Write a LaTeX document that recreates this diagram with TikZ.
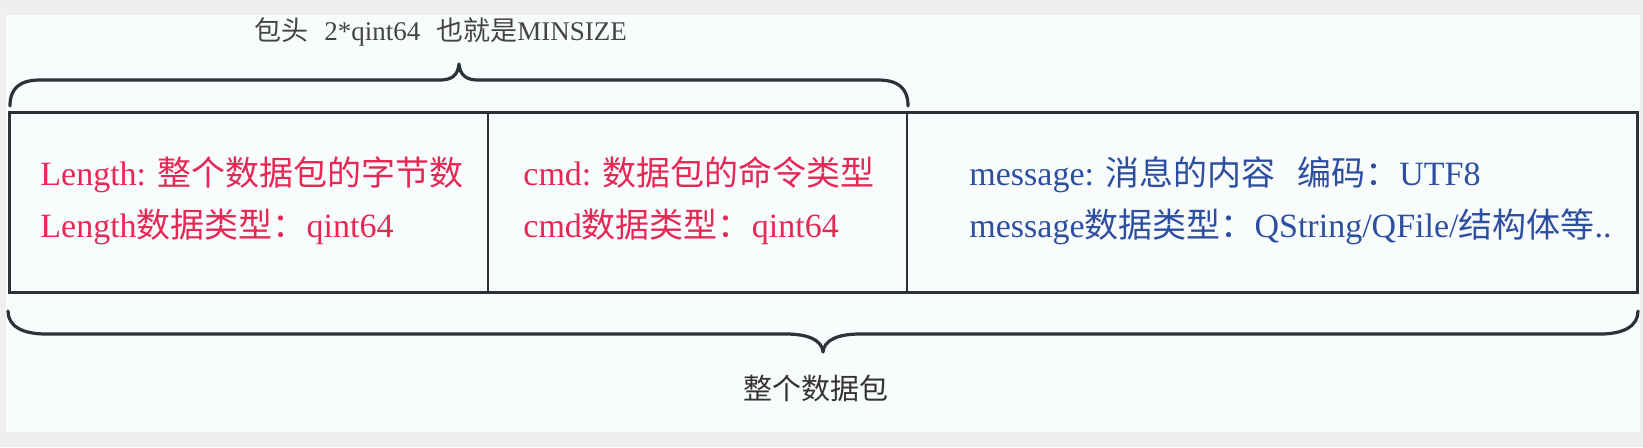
\documentclass[tikz,border=0pt]{standalone}
\usepackage{fontspec}
\setmainfont{Liberation Serif}
\newfontfamily\zh{Noto Sans CJK SC}
\definecolor{pagegray}{HTML}{EFEFEF}
\definecolor{paper}{HTML}{F8FCFD}
\definecolor{boxline}{HTML}{2A3437}
\definecolor{pktred}{HTML}{E62855}
\definecolor{pktblue}{HTML}{2E4FA0}
\definecolor{titlegray}{HTML}{444444}
\definecolor{labelgray}{HTML}{333333}
\begin{document}
\begin{tikzpicture}[x=0.5pt,y=-0.5pt,
  frame/.style={draw=boxline, line width=1.5pt},
  divider/.style={draw=boxline, line width=1.1pt},
  brace/.style={draw=boxline, line width=1.6pt, line cap=round, line join=round},
  celltext/.style={anchor=base west, inner sep=0pt, font=\fontsize{17}{20}\selectfont},
  redtxt/.style={celltext, text=pktred},
  bluetxt/.style={celltext, text=pktblue},
  titletxt/.style={anchor=base west, inner sep=0pt, text=titlegray, font=\fontsize{13.5}{16}\selectfont},
  labeltxt/.style={anchor=base, inner sep=0pt, text=labelgray, font=\fontsize{14.5}{17}\selectfont}]
\useasboundingbox (0,0) rectangle (1643,447);
\fill[pagegray] (0,0) rectangle (1643,447);
\fill[paper] (6,15) rectangle (1640,432);

% packet box
\draw[divider] (488,112) -- (488,292);
\draw[divider] (907,112) -- (907,292);
\draw[frame] (9,112) rectangle (1637,292);

% top brace
\coordinate (tbL) at (10,106);
\coordinate (tbR) at (908,106);
\coordinate (tbTip) at (459,64);
\draw[brace] (tbL) .. controls (10,88) and (20,80) .. (40,80) -- (440,80)
  .. controls (452,80) and (458,75) .. (tbTip)
  .. controls (460,75) and (466,80) .. (478,80) -- (878,80)
  .. controls (898,80) and (908,88) .. (tbR);

% bottom brace
\coordinate (bbL) at (8,311);
\coordinate (bbR) at (1638,311);
\coordinate (bbTip) at (823,352);
\draw[brace] (bbL) .. controls (8,326) and (22,334) .. (46,334) -- (786,334)
  .. controls (808,334) and (822,340) .. (bbTip)
  .. controls (824,340) and (838,334) .. (860,334) -- (1600,334)
  .. controls (1624,334) and (1638,326) .. (bbR);

% texts
\node[titletxt] (title) at (254,40) {{\zh 包头}\hspace{8pt}2*qint64\hspace{8pt}{\zh 也就是}MINSIZE};
\node[labeltxt] (whole) at (816,399) {\zh 整个数据包};

\node[redtxt] (len1) at (40,185) {Length: {\zh 整个数据包的字节数}};
\node[redtxt] (len2) at (40,237) {Length{\zh 数据类型：}qint64};
\node[redtxt] (cmd1) at (523,185) {cmd: {\zh 数据包的命令类型}};
\node[redtxt] (cmd2) at (523,237) {cmd{\zh 数据类型：}qint64};
\node[bluetxt] (msg1) at (969,185) {message: {\zh 消息的内容}\hspace{11pt}{\zh 编码：}UTF8};
\node[bluetxt] (msg2) at (969,237) {message{\zh 数据类型：}QString/QFile/{\zh 结构体等}..};
\end{tikzpicture}
\end{document}
